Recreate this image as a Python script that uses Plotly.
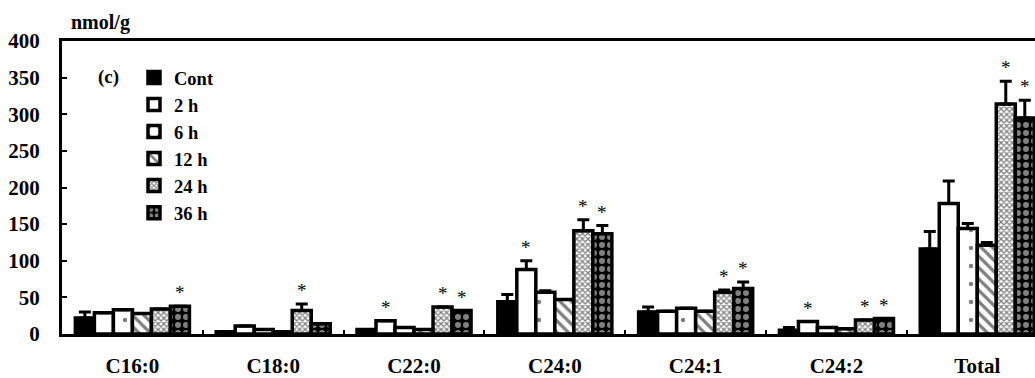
import plotly.graph_objects as go

categories = ["C16:0", "C18:0", "C22:0", "C24:0", "C24:1", "C24:2", "Total"]
series_names = ["Cont", "2 h", "6 h", "12 h", "24 h", "36 h"]

cont = [22, 3, 6, 44, 30, 5, 116]
h2 = [29, 11, 18, 88, 31, 17, 178]
h6 = [33, 6, 9, 57, 35, 9, 144]
h12 = [28, 3, 6, 47, 31, 7, 121]
h24 = [34, 32, 37, 141, 57, 19, 314]
h36 = [38, 14, 32, 137, 62, 21, 295]

cont_err = [8, 0, 0, 10, 7, 4, 24]
h2_err = [0, 0, 0, 12, 0, 0, 31]
h6_err = [0, 0, 0, 2, 0, 0, 7]
h12_err = [0, 0, 0, 0, 0, 0, 4]
h24_err = [0, 9, 0, 15, 3, 0, 31]
h36_err = [0, 0, 0, 11, 9, 0, 24]

# categories marked with * for each series
cont_sig = []
h2_sig = ["C22:0", "C24:0", "C24:2"]
h6_sig = []
h12_sig = []
h24_sig = ["C18:0", "C22:0", "C24:0", "C24:1", "C24:2", "Total"]
h36_sig = ["C16:0", "C22:0", "C24:0", "C24:1", "C24:2", "Total"]

y_ticks = [0, 50, 100, 150, 200, 250, 300, 350, 400]

values = [cont, h2, h6, h12, h24, h36]
errors = [cont_err, h2_err, h6_err, h12_err, h24_err, h36_err]
sigs = [cont_sig, h2_sig, h6_sig, h12_sig, h24_sig, h36_sig]

patterns = [
    dict(shape="", bgcolor="black", fgcolor="black"),
    dict(shape="", bgcolor="white", fgcolor="white"),
    dict(shape=".", bgcolor="white", fgcolor="black", size=18, solidity=0.05),
    dict(shape="\\", bgcolor="white", fgcolor="black", size=8, solidity=0.4),
    dict(shape="x", bgcolor="white", fgcolor="black", size=4, solidity=0.55),
    dict(shape=".", bgcolor="black", fgcolor="white", size=8, solidity=0.45),
]
colors = ["black", "white", "white", "white", "white", "black"]

FONT = "Liberation Serif, Times New Roman, serif"

fig = go.Figure()
for name, v, e, pat, col in zip(series_names, values, errors, patterns, colors):
    fig.add_trace(go.Bar(
        x=categories, y=v, name=name,
        marker=dict(color=col, line=dict(color="black", width=3.5), pattern=pat),
        error_y=dict(type="data", symmetric=False, array=e, arrayminus=[0] * len(e),
                     color="black", thickness=3, width=6, visible=True),
    ))

W, H = 1035, 378
ml, mr, mt, mb = 62, 0, 41, 42
pw, ph = W - ml - mr, H - mt - mb

bargap = 0.19
n = len(series_names)
bw = (1 - bargap) / n
annotations = []
for i, (v, e, s) in enumerate(zip(values, errors, sigs)):
    for j, c in enumerate(categories):
        if c in s:
            xpos = j - (1 - bargap) / 2 + bw * (i + 0.5)
            annotations.append(dict(
                x=xpos, y=v[j] + e[j], xref="x", yref="y", text="*",
                showarrow=False, xanchor="center", yanchor="bottom", yshift=1,
                font=dict(family=FONT, size=19, color="black")))


def px_note(text, px, py, size):
    return dict(x=(px - ml) / pw, y=1 - (py - mt) / ph, xref="paper", yref="paper",
                text=text, showarrow=False, xanchor="center", yanchor="middle",
                font=dict(family=FONT, size=size, color="black", weight="bold"))


annotations.append(px_note("nmol/g", 100, 22, 20))
annotations.append(px_note("(c)", 108, 77, 19))

fig.update_layout(
    width=W, height=H,
    margin=dict(l=ml, r=mr, t=mt, b=mb),
    plot_bgcolor="white", paper_bgcolor="white",
    barmode="group", bargap=bargap, bargroupgap=0,
    font=dict(family=FONT, color="black"),
    showlegend=True,
    legend=dict(x=(134 - ml) / pw, y=1 - (59 - mt) / ph, xanchor="left", yanchor="top",
                bgcolor="rgba(0,0,0,0)", font=dict(family=FONT, size=18.5, weight="bold"),
                traceorder="normal"),
    annotations=annotations,
)
fig.update_xaxes(
    type="category", range=[-0.5, 6.41],
    showline=True, linecolor="black", linewidth=3, mirror=True,
    ticks="inside", tickson="boundaries", ticklen=4, tickwidth=2, tickcolor="black",
    tickfont=dict(family=FONT, size=21, weight="bold", color="black"),
    ticklabelstandoff=11, showgrid=False, zeroline=False,
)
fig.update_yaxes(
    range=[0, 400], tickvals=y_ticks,
    showline=True, linecolor="black", linewidth=3,
    ticks="inside", ticklen=5, tickwidth=2, tickcolor="black",
    tickfont=dict(family=FONT, size=21, weight="bold", color="black"),
    ticklabelstandoff=15, showgrid=False, zeroline=False,
)
fig.write_html("out.html")
